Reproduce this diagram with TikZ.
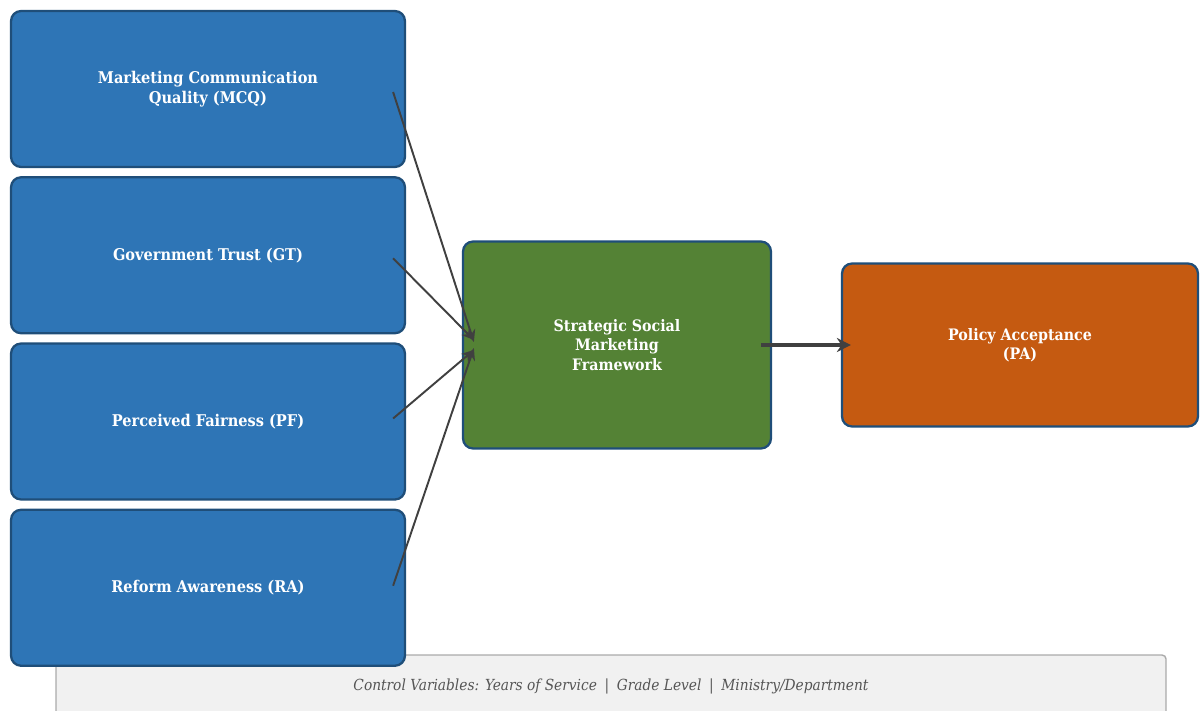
\documentclass[tikz,border=0pt]{standalone}
\usepackage{fontspec}
\setmainfont{DejaVu Serif Condensed}
\usetikzlibrary{arrows.meta, positioning}
\definecolor{factorblue}{HTML}{2E75B6}
\definecolor{edgeblue}{HTML}{1F4E79}
\definecolor{frameworkgreen}{HTML}{548235}
\definecolor{outcomeorange}{HTML}{C55A11}
\definecolor{linkgray}{HTML}{404040}
\definecolor{controlfill}{HTML}{F1F1F1}
\definecolor{controledge}{HTML}{AAAAAA}
\definecolor{controltext}{HTML}{555555}

\tikzset{
	box/.style={draw=edgeblue, line width=1.3pt, rounded corners=0.2cm, text=white, align=center,
		font=\bfseries\fontsize{9}{11}\selectfont},
	factor/.style={box, fill=factorblue, minimum width=7.88cm, minimum height=3.12cm,
		font=\bfseries\fontsize{9.2}{11.5}\selectfont},
	link/.style={draw=linkgray, line width=1.1pt, -{Stealth[length=7pt,width=6pt]}},
	mainlink/.style={draw=linkgray, line width=2.2pt, -{Stealth[length=8pt,width=8pt]}}
}

\begin{document}
\begin{tikzpicture}[x=0.02cm,y=-0.02cm]
	\clip (0,0) rectangle (1200,710);
	\useasboundingbox (0,0) rectangle (1200,710);
	% control variables bar
	\draw[fill=controlfill, draw=controledge, line width=0.8pt, rounded corners=0.08cm] (56,655) rectangle (1166,730);
	\node[text=controltext, font=\itshape\fontsize{8.7}{11}\selectfont] (ctrl) at (611,686) {Control Variables: Years of Service\enspace|\enspace Grade Level\enspace|\enspace Ministry/Department};
	% independent factors
	\node[factor] (mcq) at (208,89) {Marketing Communication\\Quality (MCQ)};
	\node[factor, below=0.16cm of mcq] (gt) {Government Trust (GT)};
	\node[factor, below=0.16cm of gt] (pf) {Perceived Fairness (PF)};
	\node[factor, below=0.16cm of pf] (ra) {Reform Awareness (RA)};
	% mediator and outcome
	\node[box, fill=frameworkgreen, minimum width=6.16cm, minimum height=4.14cm] (ssm) at (617,345) {Strategic Social\\Marketing\\Framework};
	\node[box, fill=outcomeorange, minimum width=7.12cm, minimum height=3.26cm] (pa) at (1020,345) {Policy Acceptance\\(PA)};
	% links
	\draw[link] ([xshift=-0.26cm,yshift=-0.06cm]mcq.east) -- ([xshift=0.24cm,yshift=0.06cm]ssm.west);
	\draw[link] ([xshift=-0.26cm,yshift=-0.06cm]gt.east) -- ([xshift=0.24cm,yshift=0.1cm]ssm.west);
	\draw[link] ([xshift=-0.26cm,yshift=0.06cm]pf.east) -- ([xshift=0.24cm,yshift=-0.1cm]ssm.west);
	\draw[link] ([xshift=-0.26cm,yshift=0.04cm]ra.east) -- ([xshift=0.24cm,yshift=-0.06cm]ssm.west);
	\draw[mainlink] ([xshift=-0.22cm]ssm.east) -- ([xshift=0.2cm]pa.west);
\end{tikzpicture}
\end{document}
